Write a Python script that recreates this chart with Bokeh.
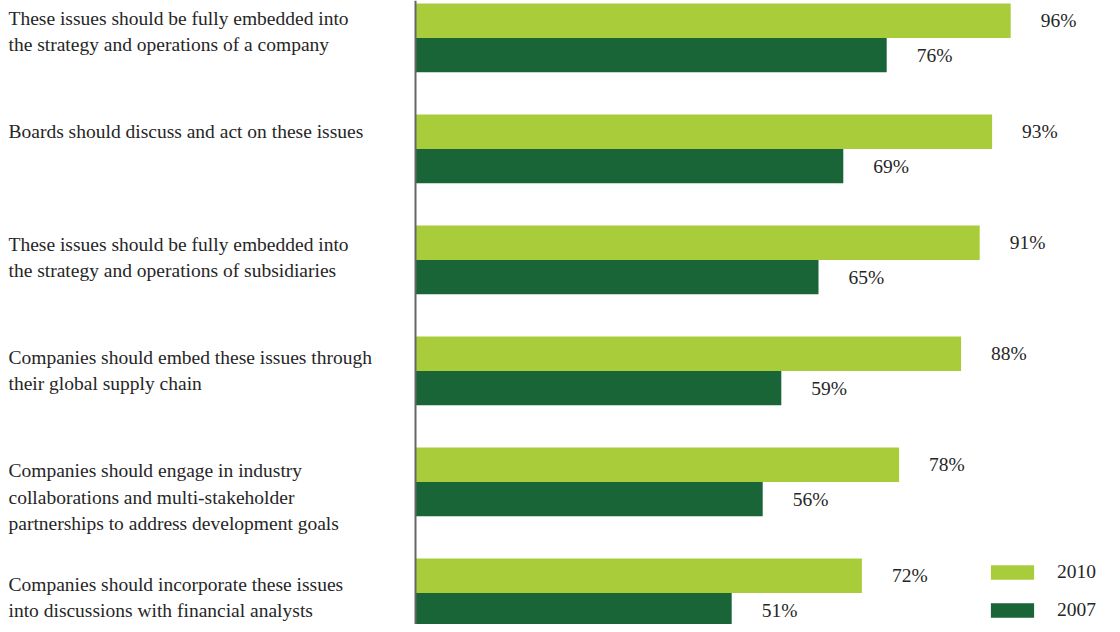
import numpy as np
from bokeh.plotting import figure
from bokeh.models import ColumnDataSource, Range1d, Span, Legend, LegendItem
from bokeh.core.properties import value
from bokeh.embed import file_html
from bokeh.resources import INLINE

categories = [
    "These issues should be fully embedded into\nthe strategy and operations of a company",
    "Boards should discuss and act on these issues",
    "These issues should be fully embedded into\nthe strategy and operations of subsidiaries",
    "Companies should embed these issues through\ntheir global supply chain",
    "Companies should engage in industry\ncollaborations and multi-stakeholder\npartnerships to address development goals",
    "Companies should incorporate these issues\ninto discussions with financial analysts",
]
v2010 = [96, 93, 91, 88, 78, 72]
v2007 = [76, 69, 65, 59, 56, 51]
series_names = ["2010", "2007"]
colors = ["#a9cd3a", "#196537"]

FONT = "Liberation Serif"
FS = "19.5px"
TXT = "#262626"
bar_h = 0.31
label_step = 1.02
idx = np.arange(len(categories))

W, H = 1112, 624
px_per_unit = 6.2
x0_px = 415
x_start = -x0_px / px_per_unit
x_end = x_start + W / px_per_unit

U = 111.0
y_top = -bar_h - 3 / U
y_bot = y_top + H / U

p = figure(width=W, height=H, output_backend="svg", toolbar_location=None,
           x_range=Range1d(x_start, x_end),
           y_range=Range1d(y_bot, y_top),
           min_border=0, outline_line_color=None)
p.axis.visible = False
p.grid.visible = False
p.background_fill_color = "white"
p.border_fill_color = "white"

src10 = ColumnDataSource(dict(y=idx - bar_h / 2, v=v2010, lab=[f"{v}%" for v in v2010]))
src07 = ColumnDataSource(dict(y=idx + bar_h / 2, v=v2007, lab=[f"{v}%" for v in v2007]))

r10 = p.hbar(y="y", left=0, right="v", height=bar_h, source=src10,
             fill_color=colors[0], line_color=None)
r07 = p.hbar(y="y", left=0, right="v", height=bar_h, source=src07,
             fill_color=colors[1], line_color=None)

for src in (src10, src07):
    p.text(x="v", y="y", text="lab", source=src, x_offset=30,
           text_font=value(FONT), text_font_size=FS, text_color=TXT,
           text_align="left", text_baseline="middle")

# category labels, top-aligned near the 2010 bar
lab_src = ColumnDataSource(dict(x=[x_start] * len(categories),
                                y=idx * label_step - bar_h, t=categories))
p.text(x="x", y="y", text="t", source=lab_src, x_offset=8, y_offset=4,
       text_font=value(FONT), text_font_size=FS, text_color=TXT,
       text_align="left", text_baseline="top", text_line_height=1.25)

p.add_layout(Span(location=0, dimension="height", line_color="#666666", line_width=2))

legend = Legend(items=[LegendItem(label=series_names[0], renderers=[r10]),
                       LegendItem(label=series_names[1], renderers=[r07])],
                location=(985, 3), orientation="vertical",
                glyph_width=54, glyph_height=18, label_height=18,
                spacing=16, padding=0, margin=0, label_standoff=18,
                label_text_font=FONT, label_text_font_size=FS,
                label_text_color=TXT, background_fill_alpha=0,
                border_line_color=None)
p.add_layout(legend)

open("out.html", "w").write(file_html(p, INLINE))
